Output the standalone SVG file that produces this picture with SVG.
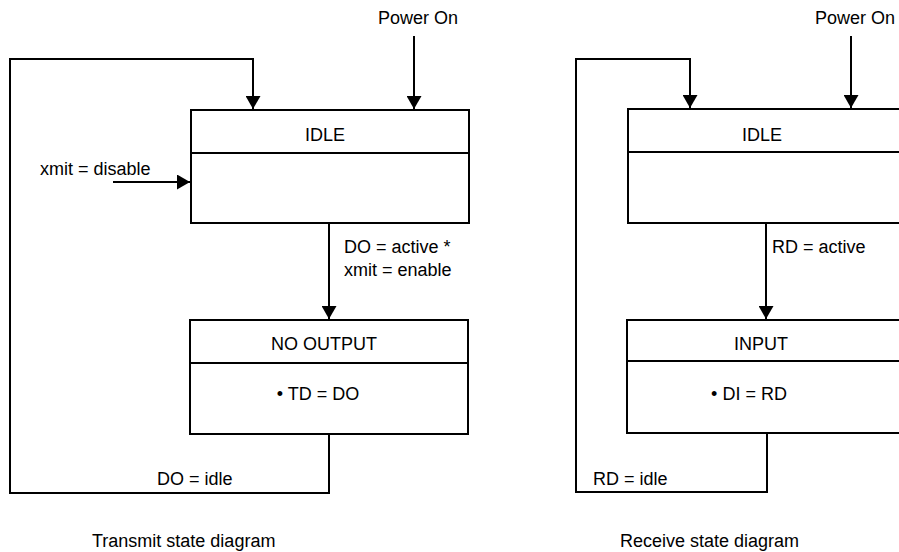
<svg xmlns="http://www.w3.org/2000/svg" width="899" height="552" viewBox="0 0 899 552">
<style>
text{font-family:"Liberation Sans",Arial,sans-serif;font-size:18px;fill:#000}
.m{text-anchor:middle}
.box{fill:#fff;stroke:#000;stroke-width:2}
.ln{fill:none;stroke:#000;stroke-width:2}
</style>
<defs>
<marker id="ah" markerWidth="14" markerHeight="15" viewBox="0 0 13 15" refX="13" refY="7.5" orient="auto" markerUnits="userSpaceOnUse">
<path d="M0,0 L13,7.5 L0,15 Z" fill="#000"/>
</marker>
</defs>
<rect width="899" height="552" fill="#fff"/>
<g id="connectors">
<path class="ln" d="M329,434 V493 H10 V59 H253 V109" marker-end="url(#ah)"/>
<path class="ln" d="M414,36 V109" marker-end="url(#ah)"/>
<path class="ln" d="M113,182 H190" marker-end="url(#ah)"/>
<path class="ln" d="M329,223 V319" marker-end="url(#ah)"/>
<path class="ln" d="M767,433 V492 H576 V59 H690 V108" marker-end="url(#ah)"/>
<path class="ln" d="M851,36 V108" marker-end="url(#ah)"/>
<path class="ln" d="M766,223 V319" marker-end="url(#ah)"/>
</g>
<g id="tx-idle">
<rect class="box" x="191" y="110" width="278" height="113"/>
<line class="ln" x1="191" y1="153" x2="469" y2="153"/>
<text class="m" x="325" y="141">IDLE</text>
</g>
<g id="tx-nooutput">
<rect class="box" x="190" y="320" width="278" height="114"/>
<line class="ln" x1="190" y1="363" x2="468" y2="363"/>
<text class="m" x="324" y="350">NO OUTPUT</text>
<text class="m" x="318" y="400">• TD = DO</text>
</g>
<g id="rx-idle">
<rect class="box" x="628" y="109" width="278" height="114"/>
<line class="ln" x1="628" y1="152" x2="906" y2="152"/>
<text class="m" x="762" y="141">IDLE</text>
</g>
<g id="rx-input">
<rect class="box" x="627" y="320" width="278" height="113"/>
<line class="ln" x1="627" y1="361" x2="905" y2="361"/>
<text class="m" x="761" y="350">INPUT</text>
<text class="m" x="749" y="400">• DI = RD</text>
</g>
<g id="labels">
<text x="378" y="24">Power On</text>
<text x="40" y="175">xmit = disable</text>
<text x="344" y="253">DO = active *</text>
<text x="344" y="276">xmit = enable</text>
<text x="157" y="485">DO = idle</text>
<text x="92" y="547">Transmit state diagram</text>
<text x="815" y="24">Power On</text>
<text x="772" y="253">RD = active</text>
<text x="593" y="485">RD = idle</text>
<text x="620" y="547">Receive state diagram</text>
</g>
</svg>
